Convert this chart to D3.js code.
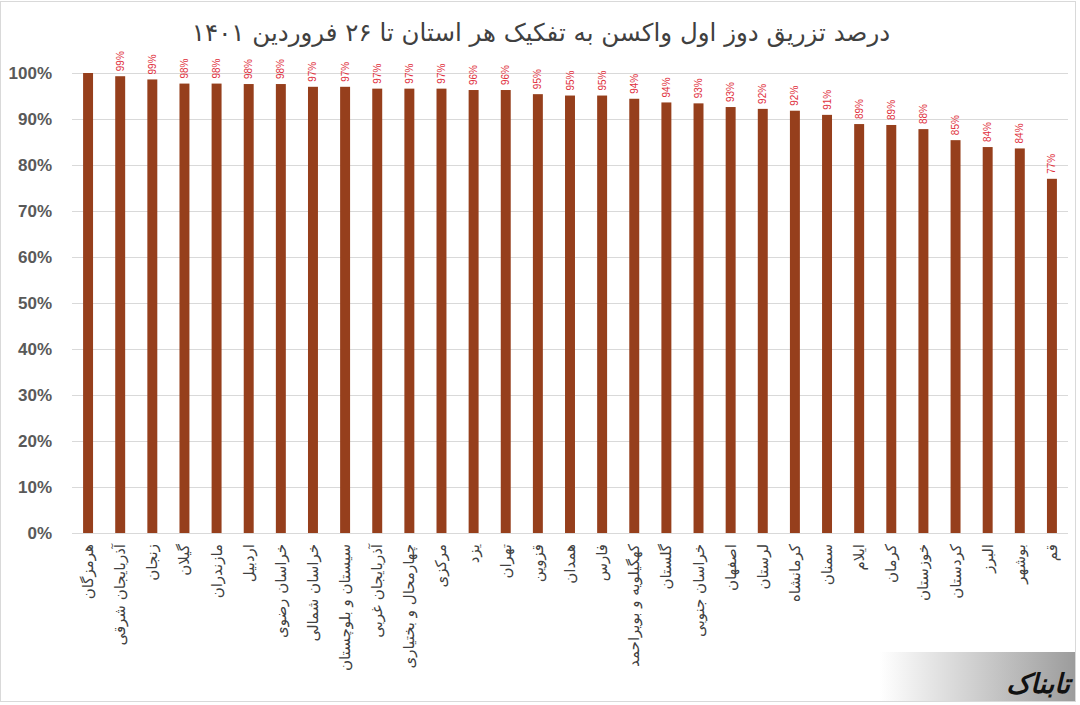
<!DOCTYPE html>
<meta charset="utf-8">
<style>
body { margin: 0; background: #fff; }
svg { display: block; }
.ytick text { font-family: "Liberation Sans", Arial, sans-serif; font-weight: bold; font-size: 17px; fill: #595959; }
.xlab { font-family: "DejaVu Sans", sans-serif; font-size: 15px; fill: #404040; }
.val { font-family: "Liberation Sans", Arial, sans-serif; font-size: 10px; fill: #e0303c; }
</style>
<body>
<script src="https://cdn.jsdelivr.net/npm/d3@7"></script>
<script>

var title = "درصد تزریق دوز اول واکسن به تفکیک هر استان  تا ۲۶ فروردین ۱۴۰۱";

var provinces = ["هرمزگان", "آذربایجان شرقی", "زنجان", "گیلان", "مازندران", "اردبیل",
  "خراسان رضوی", "خراسان شمالی", "سیستان و بلوچستان", "آذربایجان غربی",
  "چهارمحال و بختیاری", "مرکزی", "یزد", "تهران", "قزوین", "همدان", "فارس",
  "کهگیلویه و بویراحمد", "گلستان", "خراسان جنوبی", "اصفهان", "لرستان", "کرمانشاه",
  "سمنان", "ایلام", "کرمان", "خوزستان", "کردستان", "البرز", "بوشهر", "قم"];

var values = [100, 99.3, 98.6, 97.7, 97.7, 97.6, 97.6, 97.0, 97.0, 96.6, 96.6, 96.6,
  96.3, 96.3, 95.4, 95.1, 95.1, 94.4, 93.6, 93.4, 92.6, 92.2, 91.8, 90.9, 88.9,
  88.7, 87.8, 85.4, 83.9, 83.6, 77.0];

// the first label is cut off in the original
var showLabel = values.map(function(v, i) { return i > 0; });

var yTicks = [0, 10, 20, 30, 40, 50, 60, 70, 80, 90, 100];

var W = 1080, H = 705;
var margin = {left: 72, right: 12, top: 73, bottom: 172};

var svg = d3.select("body").append("svg")
    .attr("width", W)
    .attr("height", H);

svg.append("rect")
    .attr("x", 0.5).attr("y", 1.5)
    .attr("width", 1075).attr("height", 700)
    .attr("fill", "#fff")
    .attr("stroke", "#d9d9d9");

// watermark strip
var grad = svg.append("defs").append("linearGradient")
    .attr("id", "wm").attr("x1", "0").attr("x2", "1");
grad.append("stop").attr("offset", "0").attr("stop-color", "#fff");
grad.append("stop").attr("offset", "1").attr("stop-color", "#9c9c9c");

svg.append("rect")
    .attr("x", 880).attr("y", 652)
    .attr("width", 195).attr("height", 49)
    .attr("fill", "url(#wm)");

svg.append("text")
    .attr("x", 1070).attr("y", 693)
    .attr("text-anchor", "end")
    .style("font-family", "DejaVu Sans, sans-serif")
    .style("font-size", "27px")
    .style("font-weight", "bold")
    .style("font-style", "italic")
    .attr("fill", "#111")
    .text("تابناک");

svg.append("text")
    .attr("x", 541).attr("y", 41)
    .attr("text-anchor", "middle")
    .style("font-family", "DejaVu Sans, sans-serif")
    .style("font-size", "24.5px")
    .attr("fill", "#404040")
    .text(title);

var x = d3.scaleBand()
    .domain(provinces)
    .range([margin.left, W - margin.right])
    .paddingInner(0.69)
    .paddingOuter(0.345);

var y = d3.scaleLinear()
    .domain([0, 100])
    .range([H - margin.bottom, margin.top]);

var yAxis = d3.axisLeft(y)
    .tickValues(yTicks)
    .tickSize(-(W - margin.right - margin.left))
    .tickPadding(20)
    .tickFormat(function(d) { return d + "%"; });

var gy = svg.append("g")
    .attr("class", "ytick")
    .attr("transform", "translate(" + margin.left + ",0)")
    .call(yAxis);
gy.select(".domain").remove();
gy.selectAll("line").attr("stroke", "#d9d9d9");
gy.selectAll("text").attr("dy", "0.35em");

svg.selectAll("rect.bar")
    .data(values)
  .enter().append("rect")
    .attr("class", "bar")
    .attr("x", function(d, i) { return x(provinces[i]); })
    .attr("width", x.bandwidth())
    .attr("y", function(d) { return y(d); })
    .attr("height", function(d) { return y(0) - y(d); })
    .attr("fill", "#963f1c");

svg.selectAll("text.val")
    .data(values)
  .enter().append("text")
    .attr("class", "val")
    .attr("transform", function(d, i) {
      var cx = x(provinces[i]) + x.bandwidth() / 2;
      return "translate(" + (cx + 3.5) + "," + (y(d) - 5) + ")rotate(-90)";
    })
    .attr("text-anchor", "start")
    .text(function(d, i) { return showLabel[i] ? d3.format(".0f")(d) + "%" : ""; });

svg.selectAll("text.xlab")
    .data(provinces)
  .enter().append("text")
    .attr("class", "xlab")
    .attr("transform", function(d) {
      var cx = x(d) + x.bandwidth() / 2;
      return "translate(" + (cx + 5) + "," + (y(0) + 11) + ")rotate(-90)";
    })
    .attr("text-anchor", "end")
    .text(function(d) { return d; });

</script>
